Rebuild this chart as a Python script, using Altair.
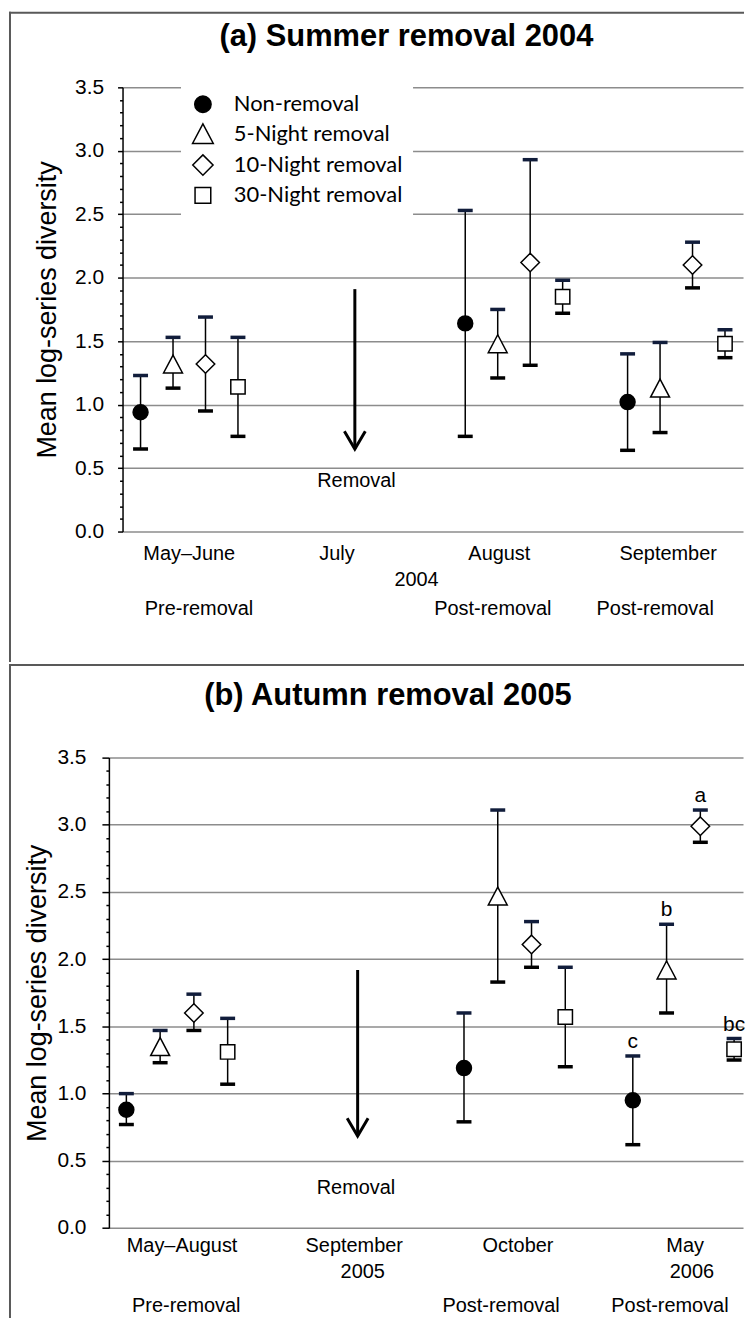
import altair as alt
import pandas as pd

SERIES = ["Non-removal", "5-Night removal", "10-Night removal", "30-Night removal"]

# ---- panel (a) Summer removal 2004 : slots 0=May–June, 1=July, 2=August, 3=September
A_SLOTS = [0, 2, 3]
A_MEAN = {"Non-removal": [0.94, 1.64, 1.02], "5-Night removal": [1.32, 1.48, 1.13],
          "10-Night removal": [1.32, 2.12, 2.10], "30-Night removal": [1.14, 1.85, 1.48]}
A_LOW = {"Non-removal": [0.65, 0.75, 0.64], "5-Night removal": [1.13, 1.21, 0.78],
         "10-Night removal": [0.95, 1.31, 1.92], "30-Night removal": [0.75, 1.72, 1.37]}
A_UP = {"Non-removal": [1.23, 2.53, 1.40], "5-Night removal": [1.53, 1.75, 1.49],
        "10-Night removal": [1.69, 2.93, 2.28], "30-Night removal": [1.53, 1.98, 1.59]}
A_MONTHS = ["May–June", "July", "August", "September"]
A_MONTH_POS = [0.0, 0.91, 1.91, 2.95]
A_YEARS = ["2004"]
A_YEAR_POS = [1.40]
A_PHASES = ["Pre-removal", "Post-removal", "Post-removal"]
A_PHASE_POS = [0.06, 1.87, 2.87]
A_ARROW = {"x": [1.02], "top": [1.91], "tip": [0.65]}
A_REMOVAL = {"label": ["Removal"], "x": [1.03], "y": [0.35]}

# ---- panel (b) Autumn removal 2005 : slots 0=May–August, 1=September, 2=October, 3=May
B_SLOTS = [0, 2, 3]
B_MEAN = {"Non-removal": [0.88, 1.19, 0.95], "5-Night removal": [1.35, 2.47, 1.92],
          "10-Night removal": [1.60, 2.11, 2.99], "30-Night removal": [1.31, 1.57, 1.33]}
B_LOW = {"Non-removal": [0.77, 0.79, 0.62], "5-Night removal": [1.23, 1.83, 1.60],
         "10-Night removal": [1.47, 1.94, 2.87], "30-Night removal": [1.07, 1.20, 1.25]}
B_UP = {"Non-removal": [1.00, 1.60, 1.28], "5-Night removal": [1.47, 3.11, 2.26],
        "10-Night removal": [1.74, 2.28, 3.11], "30-Night removal": [1.56, 1.94, 1.41]}
B_LETTERS = {"Non-removal": ["", "", "c"], "5-Night removal": ["", "", "b"],
             "10-Night removal": ["", "", "a"], "30-Night removal": ["", "", "bc"]}
B_MONTHS = ["May–August", "September", "October", "May"]
B_MONTH_POS = [0.03, 1.05, 2.02, 3.01]
B_YEARS = ["2005", "2006"]
B_YEAR_POS = [1.10, 3.05]
B_PHASES = ["Pre-removal", "Post-removal", "Post-removal"]
B_PHASE_POS = [0.055, 1.92, 2.92]
B_ARROW = {"x": [1.07], "top": [1.92], "tip": [0.684]}
B_REMOVAL = {"label": ["Removal"], "x": [1.06], "y": [0.25]}

Y_TICKS = [round(i / 10, 1) for i in range(36)]

# ---- styling
CIRCLE = ("M0,-0.75C0.414,-0.75,0.75,-0.414,0.75,0C0.75,0.414,0.414,0.75,0,0.75"
          "C-0.414,0.75,-0.75,0.414,-0.75,0C-0.75,-0.414,-0.414,-0.75,0,-0.75Z")
TRIANGLE = "M0,-0.9L0.95,0.9L-0.95,0.9Z"
DIAMOND = "M0,-0.93L0.93,0L0,0.93L-0.93,0Z"
SQUARE = "M-0.72,-0.72L0.72,-0.72L0.72,0.72L-0.72,0.72Z"
CHEVRON = "M-1,-1.7L0,0L1,-1.7"
SHAPES = [CIRCLE, TRIANGLE, DIAMOND, SQUARE]
FILLS = ["black", "white", "white", "white"]
STROKES = ["black", "black", "black", "black"]
BORDER = "#595959"
FONT = "Liberation Sans"
MAJOR = "round(datum.value * 10) % 5 === 0"

TOP = dict(W=738, H=653, axis_x=114, yrange=[522, 76], xdom=[-0.411, 3.411], xrange=[114, 737],
           tmaj=5, tmin=3, lpad=14, title_x=-67, title="(a) Summer removal 2004",
           title_pos=(399, 34), rows=[551, 577, 606])
BOT = dict(W=738, H=657, axis_x=100.3, yrange=[566.3, 94], xdom=[-0.4035, 3.3528], xrange=[100.3, 737],
           tmaj=7, tmin=3, lpad=16, title_x=-63.3, title="(b) Autumn removal 2005",
           title_pos=(380.5, 41), rows=[590.7, 616, 651])


def make_panel(g, slots, mean, low, up, letters, months, month_pos, years, year_pos,
               phases, phase_pos, arrow, removal, legend):
    rows = []
    for si, s in enumerate(SERIES):
        for k, slot in enumerate(slots):
            rows.append({"series": s, "sidx": si, "slot": slot, "mean": mean[s][k],
                         "low": low[s][k], "up": up[s][k],
                         "letter": letters[s][k] if letters else ""})
    df = pd.DataFrame(rows)

    xscale = alt.Scale(domain=g["xdom"], range=g["xrange"], nice=False, zero=False)
    yscale = alt.Scale(domain=[0, 3.5], range=g["yrange"], nice=False, zero=False)
    yaxis = alt.Axis(
        values=Y_TICKS,
        labelExpr=f"{MAJOR} ? format(datum.value, '.1f') : ''",
        offset=-g["axis_x"], grid=True, gridColor="#8c8c8c", gridWidth=1.5,
        gridOpacity={"condition": {"test": MAJOR, "value": 1}, "value": 0},
        tickSize={"condition": {"test": MAJOR, "value": g["tmaj"]}, "value": g["tmin"]},
        tickColor="black", tickWidth=1.5, domainColor="black", domainWidth=1.5,
        labelFont=FONT, labelFontSize=21, labelColor="black", labelPadding=g["lpad"],
        labelOverlap=False, labelFlush=False,
        title="Mean log-series diversity", titleFont=FONT, titleFontSize=27,
        titleFontWeight="normal", titleColor="black", titleAngle=270,
        titleAlign="center", titleBaseline="alphabetic",
        titleX=g["title_x"], titleY=(g["yrange"][0] + g["yrange"][1]) / 2,
    )

    def X(f):
        return alt.X(f"{f}:Q", scale=xscale, axis=None)

    def Y(f):
        return alt.Y(f"{f}:Q", scale=yscale, axis=yaxis)

    one = pd.DataFrame({"k": [0]})
    border_l = alt.Chart(one).mark_rule(color=BORDER, strokeWidth=2).encode(
        x=alt.value(1), y=alt.value(0), y2=alt.value(g["H"]))
    border_t = alt.Chart(one).mark_rule(color=BORDER, strokeWidth=2).encode(
        x=alt.value(0), x2=alt.value(g["W"]), y=alt.value(1))
    title = alt.Chart(one).mark_text(text=g["title"], font=FONT, fontSize=31, fontWeight="bold",
                                     align="center", baseline="alphabetic", color="black").encode(
        x=alt.value(g["title_pos"][0]), y=alt.value(g["title_pos"][1]))

    base = alt.Chart(df).transform_calculate(xpos="datum.slot + (datum.sidx - 1.5) * 0.2")
    bars = base.mark_rule(color="black", strokeWidth=1.5).encode(
        x=X("xpos"), y=Y("low"), y2="up:Q")
    caps_low = base.mark_tick(orient="horizontal", size=15, thickness=3.5, color="black",
                              opacity=1).encode(x=X("xpos"), y=Y("low"))
    caps_up = base.mark_tick(orient="horizontal", size=15, thickness=3.5, color="#111d3b",
                             opacity=1).encode(x=X("xpos"), y=Y("up"))
    pts = base.mark_point(filled=True, size=400, strokeWidth=1.5, opacity=1).encode(
        x=X("xpos"), y=Y("mean"),
        shape=alt.Shape("series:N", scale=alt.Scale(domain=SERIES, range=SHAPES), legend=legend),
        fill=alt.Fill("series:N", scale=alt.Scale(domain=SERIES, range=FILLS), legend=legend),
        stroke=alt.Stroke("series:N", scale=alt.Scale(domain=SERIES, range=STROKES), legend=legend),
    )
    layers = [border_l, border_t, title, bars, caps_low, caps_up, pts]
    if letters:
        layers.append(base.transform_filter("datum.letter != ''").mark_text(
            font=FONT, fontSize=21, baseline="alphabetic", align="center", dy=-8, color="black").encode(
            x=X("xpos"), y=Y("up"), text="letter:N"))

    adf = pd.DataFrame(arrow)
    layers.append(alt.Chart(adf).mark_rule(color="black", strokeWidth=3).encode(
        x=X("x"), y=Y("tip"), y2="top:Q"))
    layers.append(alt.Chart(adf).mark_point(shape=CHEVRON, size=441, filled=False, stroke="black",
                                            strokeWidth=3, opacity=1, strokeJoin="miter").encode(
        x=X("x"), y=Y("tip")))
    layers.append(alt.Chart(pd.DataFrame(removal)).mark_text(
        font=FONT, fontSize=20, baseline="alphabetic", align="center", color="black").encode(
        x=X("x"), y=Y("y"), text="label:N"))

    for labels, pos, ry in [(months, month_pos, g["rows"][0]), (years, year_pos, g["rows"][1]),
                            (phases, phase_pos, g["rows"][2])]:
        layers.append(alt.Chart(pd.DataFrame({"label": labels, "pos": pos})).mark_text(
            font=FONT, fontSize=20, baseline="alphabetic", align="center", color="black").encode(
            x=X("pos"), y=alt.value(ry), text="label:N"))

    return alt.layer(*layers).properties(width=g["W"], height=g["H"])


legend_a = alt.Legend(orient="none", legendX=172.7, legendY=71, title=None, fillColor="white",
                      padding=10, labelFont="Lato", labelFontSize=22, labelColor="black",
                      labelLimit=400, symbolSize=480, symbolStrokeWidth=1.5,
                      rowPadding=4.5, labelOffset=19, direction="vertical")

top = make_panel(TOP, A_SLOTS, A_MEAN, A_LOW, A_UP, None, A_MONTHS, A_MONTH_POS, A_YEARS, A_YEAR_POS,
                 A_PHASES, A_PHASE_POS, A_ARROW, A_REMOVAL, legend_a)
bottom = make_panel(BOT, B_SLOTS, B_MEAN, B_LOW, B_UP, B_LETTERS, B_MONTHS, B_MONTH_POS, B_YEARS,
                    B_YEAR_POS, B_PHASES, B_PHASE_POS, B_ARROW, B_REMOVAL, None)

chart = alt.vconcat(top, bottom, spacing=0).configure_view(stroke=None).properties(padding=0)
chart.save("out.html", embed_options={"renderer": "svg", "actions": False})
